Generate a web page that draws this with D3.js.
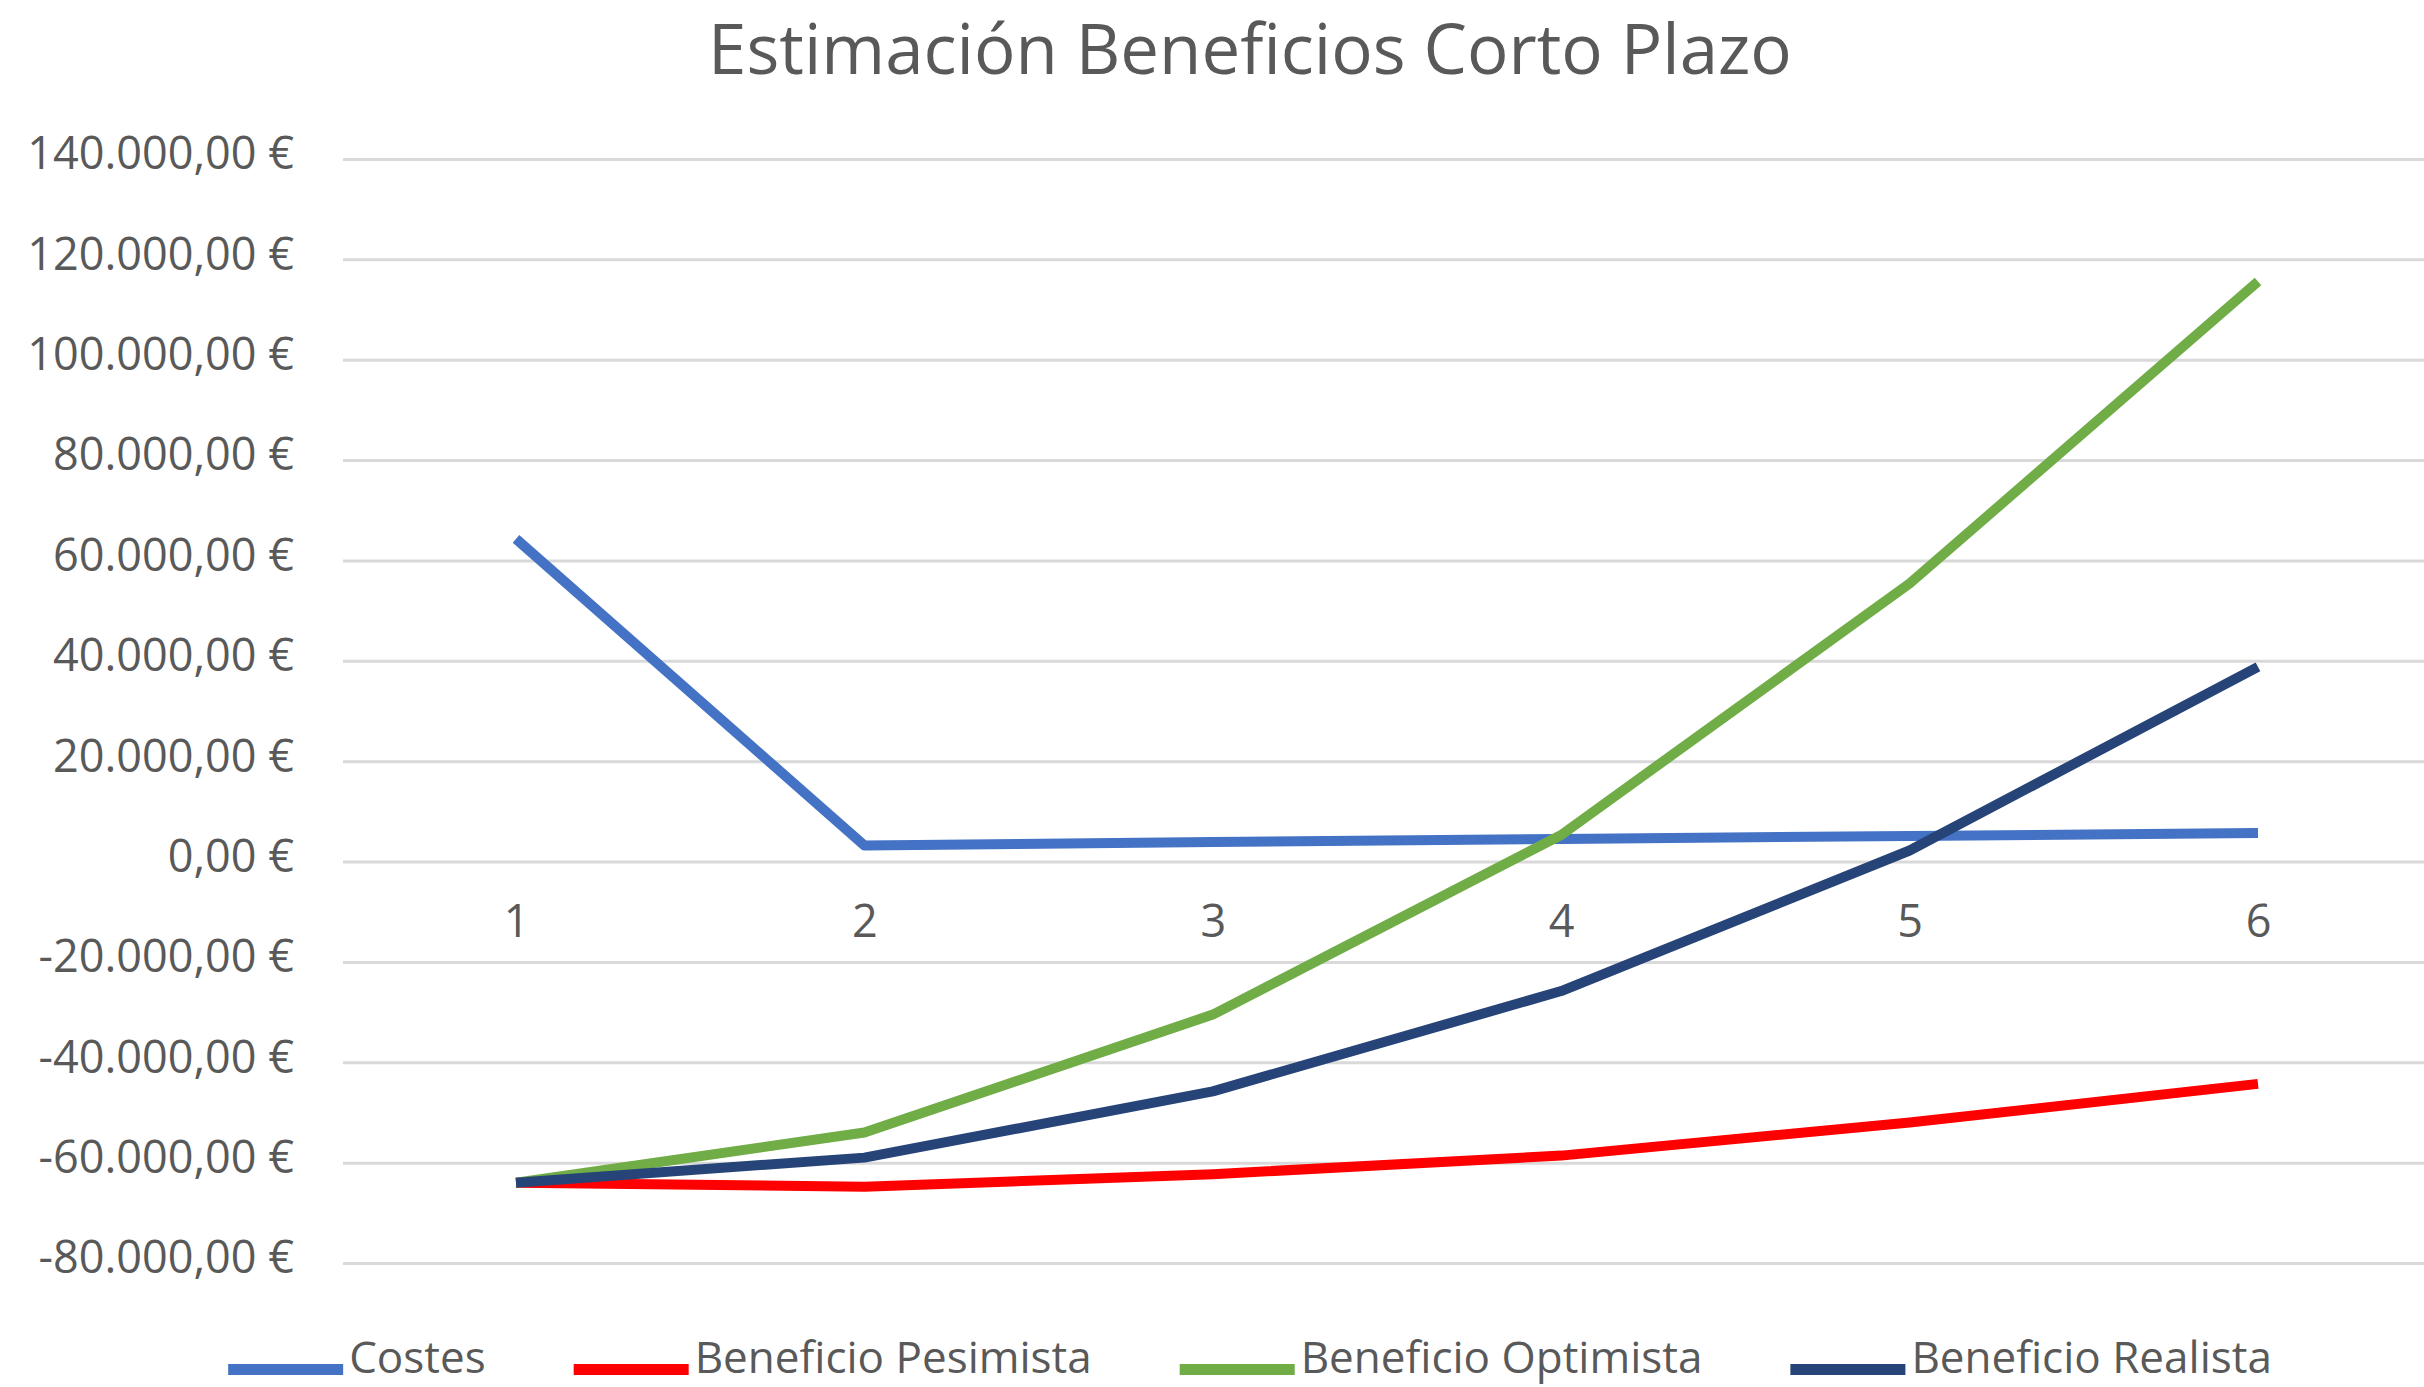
<!DOCTYPE html>
<html>
<head>
<meta charset="utf-8">
<script src="https://cdn.jsdelivr.net/npm/d3@7"></script>
<style>
  html, body { margin: 0; padding: 0; background: #ffffff; }
  svg { display: block; }
  text { font-family: "Open Sans", sans-serif; fill: #595959; }
</style>
</head>
<body>
<script>
// ---- Data ----
const title = "Estimación Beneficios Corto Plazo";
const categories = ["1", "2", "3", "4", "5", "6"];
const seriesNames = ["Costes", "Beneficio Pesimista", "Beneficio Optimista", "Beneficio Realista"];
const costes    = [64300, 3200, 3900, 4500, 5100, 5700];
const pesimista = [-64000, -64800, -62300, -58600, -52000, -44300];
const optimista = [-64000, -54000, -30500, 5300, 55400, 115600];
const realista  = [-64000, -59000, -45800, -25800, 2200, 38800];
const yTicks = [-80000, -60000, -40000, -20000, 0, 20000, 40000, 60000, 80000, 100000, 120000, 140000];
const colors = ["#4472C4", "#FF0000", "#70AD47", "#264478"];

const seriesValues = [costes, pesimista, optimista, realista];

// ---- Layout ----
const W = 2424, H = 1387;
const plotLeft = 343, plotRight = 2424;
const plotTop = 159, plotBottom = 1263;

const svg = d3.select("body").append("svg")
  .attr("width", W).attr("height", H);

const x = d3.scalePoint().domain(categories).range([516, 2258]);
const y = d3.scaleLinear().domain([-80000, 140000]).range([plotBottom, plotTop]);

const locale = d3.formatLocale({
  decimal: ",", thousands: ".", grouping: [3], currency: ["", " €"], minus: "-"
});
const fmt = locale.format("$,.2f");

// Gridlines
const grid = svg.append("g")
  .attr("transform", `translate(${plotLeft},0)`)
  .call(d3.axisRight(y).tickValues(yTicks).tickSize(plotRight - plotLeft).tickFormat(""));
grid.select(".domain").remove();
grid.selectAll(".tick line").attr("stroke", "#D9D9D9").attr("stroke-width", 3);

// Y axis labels
const yAxis = svg.append("g")
  .attr("transform", `translate(${plotLeft},0)`)
  .call(d3.axisLeft(y).tickValues(yTicks).tickSize(0).tickPadding(49).tickFormat(fmt));
yAxis.select(".domain").remove();
yAxis.selectAll(".tick text")
  .attr("font-family", "Open Sans")
  .attr("font-size", 45)
  .attr("fill", "#595959")
  .attr("dy", "0.22em");

// X axis labels
const xAxis = svg.append("g")
  .attr("transform", `translate(0,${y(0)})`)
  .call(d3.axisBottom(x).tickSize(0).tickPadding(44));
xAxis.select(".domain").remove();
xAxis.selectAll(".tick text")
  .attr("font-family", "Open Sans")
  .attr("font-size", 45)
  .attr("fill", "#595959");

// Lines
const line = d3.line()
  .x((d, i) => x(categories[i]))
  .y(d => y(d));

svg.append("g").selectAll("path")
  .data(seriesValues)
  .join("path")
  .attr("d", d => line(d))
  .attr("fill", "none")
  .attr("stroke", (d, i) => colors[i])
  .attr("stroke-width", 10)
  .attr("stroke-linejoin", "round")
  .attr("stroke-linecap", "butt");

// Title
svg.append("text")
  .attr("x", 1250).attr("y", 74)
  .attr("text-anchor", "middle")
  .attr("font-size", 69)
  .attr("fill", "#595959")
  .text(title);

// Legend
const legendCenter = 1250, swatchW = 115, swatchGap = 6, itemGap = 88;
const legendBaseline = 1373;
const lg = svg.append("g");
const items = lg.selectAll("g").data(seriesNames).join("g");
items.append("text")
  .attr("font-size", 44)
  .attr("fill", "#595959")
  .attr("y", legendBaseline)
  .text(d => d);
const widths = [];
items.select("text").each(function () { widths.push(this.getComputedTextLength()); });
const total = d3.sum(widths) + seriesNames.length * (swatchW + swatchGap) + (seriesNames.length - 1) * itemGap;
let cx = legendCenter - total / 2;
items.each(function (d, i) {
  const g = d3.select(this);
  g.insert("rect", "text")
    .attr("x", cx).attr("y", 1364)
    .attr("width", swatchW).attr("height", 11)
    .attr("fill", colors[i]);
  g.select("text").attr("x", cx + swatchW + swatchGap);
  cx += swatchW + swatchGap + widths[i] + itemGap;
});
</script>
</body>
</html>
